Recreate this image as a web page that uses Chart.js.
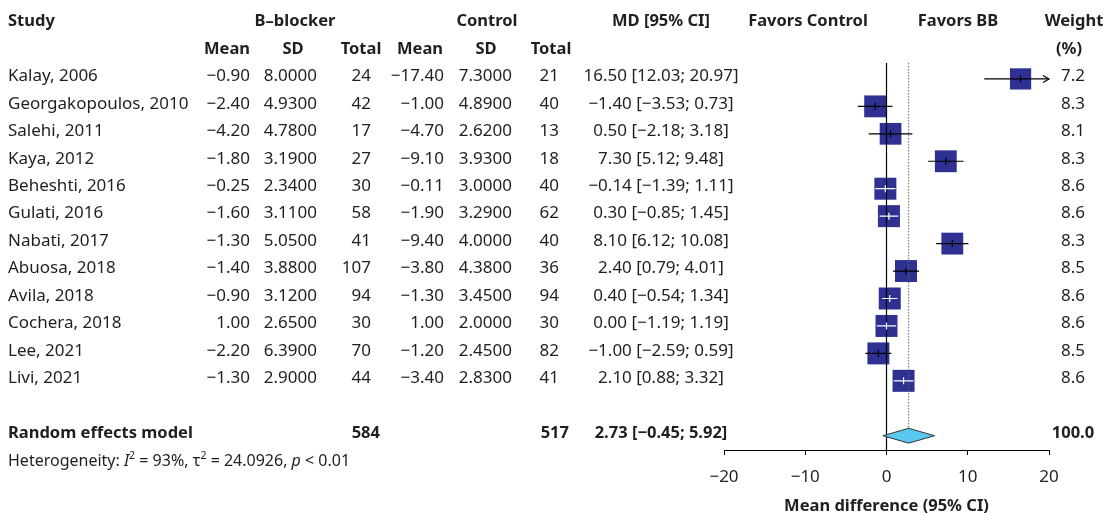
<!DOCTYPE html>
<html>
<head>
<meta charset="utf-8">
<script src="https://cdn.jsdelivr.net/npm/chart.js@4.4.0/dist/chart.umd.min.js"></script>
<style>
  body { margin: 0; background: #fff; }
  #forest { display: block; }
</style>
</head>
<body>
<canvas id="forest" width="1105" height="513"></canvas>
<script>
// study rows
var studies = ["Kalay, 2006", "Georgakopoulos, 2010", "Salehi, 2011", "Kaya, 2012", "Beheshti, 2016", "Gulati, 2016",
  "Nabati, 2017", "Abuosa, 2018", "Avila, 2018", "Cochera, 2018", "Lee, 2021", "Livi, 2021"];
var bbMean = [-0.90, -2.40, -4.20, -1.80, -0.25, -1.60, -1.30, -1.40, -0.90, 1.00, -2.20, -1.30];
var bbSD = [8.0000, 4.9300, 4.7800, 3.1900, 2.3400, 3.1100, 5.0500, 3.8800, 3.1200, 2.6500, 6.3900, 2.9000];
var bbTotal = [24, 42, 17, 27, 30, 58, 41, 107, 94, 30, 70, 44];
var ctMean = [-17.40, -1.00, -4.70, -9.10, -0.11, -1.90, -9.40, -3.80, -1.30, 1.00, -1.20, -3.40];
var ctSD = [7.3000, 4.8900, 2.6200, 3.9300, 3.0000, 3.2900, 4.0000, 4.3800, 3.4500, 2.0000, 2.4500, 2.8300];
var ctTotal = [21, 40, 13, 18, 40, 62, 40, 36, 94, 30, 82, 41];
var md = [16.50, -1.40, 0.50, 7.30, -0.14, 0.30, 8.10, 2.40, 0.40, 0.00, -1.00, 2.10];
var ciLow = [12.03, -3.53, -2.18, 5.12, -1.39, -0.85, 6.12, 0.79, -0.54, -1.19, -2.59, 0.88];
var ciHigh = [20.97, 0.73, 3.18, 9.48, 1.11, 1.45, 10.08, 4.01, 1.34, 1.19, 0.59, 3.32];
var weight = [7.2, 8.3, 8.1, 8.3, 8.6, 8.6, 8.3, 8.5, 8.6, 8.6, 8.5, 8.6];

// random effects model
var pooledMD = [2.73, -0.45, 5.92];
var pooledTotals = [584, 517];
var pooledWeight = 100.0;
var i2 = '93%';
var tau2 = '24.0926';
var pValue = '< 0.01';

var xTicks = [-20, -10, 0, 10, 20];

var FONT = 'Noto Sans';
var TXT = '#1f1f1f';
var pooledRow = 13;

function num(v, d) {
  return (v < 0 ? '\u2212' : '') + Math.abs(v).toFixed(d);
}
function sideOf(w) {
  return 22 * Math.pow(w / 8.6, 0.2);
}

// CI whiskers + diamond
var ciPlugin = {
  id: 'ciLines',
  afterDatasetsDraw: function (chart) {
    var ctx = chart.ctx, xs = chart.scales.x, ys = chart.scales.y;
    ctx.save();
    ctx.lineWidth = 1.2;
    for (var i = 0; i < md.length; i++) {
      var y = ys.getPixelForValue(i);
      var x1 = xs.getPixelForValue(Math.max(ciLow[i], -20));
      var x2 = xs.getPixelForValue(Math.min(ciHigh[i], 20));
      var xm = xs.getPixelForValue(md[i]);
      var col = (x2 - x1) > sideOf(weight[i]) ? '#000' : '#fff';
      ctx.strokeStyle = col;
      ctx.beginPath();
      ctx.moveTo(x1, y); ctx.lineTo(x2, y);
      ctx.moveTo(xm, y - 3.5); ctx.lineTo(xm, y + 3.5);
      ctx.stroke();
      if (ciHigh[i] > 20) {
        ctx.strokeStyle = '#000';
        ctx.beginPath();
        ctx.moveTo(x2 - 6, y - 3.5); ctx.lineTo(x2, y); ctx.lineTo(x2 - 6, y + 3.5);
        ctx.stroke();
      }
    }
    // diamond
    var yc = ys.getPixelForValue(pooledRow);
    var h = Math.abs(ys.getPixelForValue(pooledRow + 0.27) - yc);
    ctx.beginPath();
    ctx.moveTo(xs.getPixelForValue(pooledMD[1]), yc);
    ctx.lineTo(xs.getPixelForValue(pooledMD[0]), yc - h);
    ctx.lineTo(xs.getPixelForValue(pooledMD[2]), yc);
    ctx.lineTo(xs.getPixelForValue(pooledMD[0]), yc + h);
    ctx.closePath();
    ctx.fillStyle = '#58c8f0';
    ctx.fill();
    ctx.lineWidth = 1;
    ctx.strokeStyle = '#333';
    ctx.stroke();
    ctx.restore();
  }
};

// table text around the plot
var tablePlugin = {
  id: 'table',
  afterDraw: function (chart) {
    var ctx = chart.ctx, ys = chart.scales.y;
    function txt(s, x, row, align, bold) {
      ctx.font = bold ? 'bold 16.5px "' + FONT + '"' : '17px "' + FONT + '"';
      ctx.textAlign = align;
      ctx.fillText(s, x, ys.getPixelForValue(row) - 2.5);
    }
    ctx.save();
    ctx.fillStyle = TXT;
    ctx.textBaseline = 'middle';

    // headers
    txt('Study', 8, -2, 'left', true);
    txt('B\u2013blocker', 295, -2, 'center', true);
    txt('Control', 487, -2, 'center', true);
    txt('MD [95% CI]', 661, -2, 'center', true);
    txt('Favors Control', 808, -2, 'center', true);
    txt('Favors BB', 958, -2, 'center', true);
    txt('Weight', 1074, -2, 'center', true);
    txt('Mean', 227, -1, 'center', true);
    txt('SD', 293, -1, 'center', true);
    txt('Total', 361, -1, 'center', true);
    txt('Mean', 420, -1, 'center', true);
    txt('SD', 486, -1, 'center', true);
    txt('Total', 551, -1, 'center', true);
    txt('(%)', 1069, -1, 'center', true);

    for (var i = 0; i < studies.length; i++) {
      txt(studies[i], 8, i, 'left');
      txt(num(bbMean[i], 2), 250, i, 'right');
      txt(num(bbSD[i], 4), 317, i, 'right');
      txt(String(bbTotal[i]), 371, i, 'right');
      txt(num(ctMean[i], 2), 444, i, 'right');
      txt(num(ctSD[i], 4), 512, i, 'right');
      txt(String(ctTotal[i]), 559, i, 'right');
      txt(num(md[i], 2) + ' [' + num(ciLow[i], 2) + '; ' + num(ciHigh[i], 2) + ']', 661, i, 'center');
      txt(weight[i].toFixed(1), 1073, i, 'center');
    }

    // pooled row
    txt('Random effects model', 8, pooledRow, 'left', true);
    txt(String(pooledTotals[0]), 380, pooledRow, 'right', true);
    txt(String(pooledTotals[1]), 569, pooledRow, 'right', true);
    txt(num(pooledMD[0], 2) + ' [' + num(pooledMD[1], 2) + '; ' + num(pooledMD[2], 2) + ']', 661, pooledRow, 'center', true);
    txt(pooledWeight.toFixed(1), 1073, pooledRow, 'center', true);

    // heterogeneity line
    var parts = [
      ['Heterogeneity: ', ''], ['I', 'italic '], ['2', 'sup'], [' = ' + i2 + ', ', ''],
      ['\u03c4', ''], ['2', 'sup'], [' = ' + tau2 + ', ', ''], ['p', 'italic '], [' ' + pValue, '']
    ];
    var hx = 8, hy = ys.getPixelForValue(pooledRow + 1) - 2;
    ctx.textAlign = 'left';
    parts.forEach(function (p) {
      if (p[1] === 'sup') {
        ctx.font = '10.5px "' + FONT + '"';
        ctx.fillText(p[0], hx, hy - 5);
      } else {
        ctx.font = p[1] + '16px "' + FONT + '"';
        ctx.fillText(p[0], hx, hy);
      }
      hx += ctx.measureText(p[0]).width;
    });
    ctx.restore();
  }
};

var ctx = document.getElementById('forest').getContext('2d');
var forest = new Chart(ctx, {
  type: 'scatter',
  data: {
    datasets: [{
      label: 'MD',
      data: md.map(function (v, i) { return { x: v, y: i }; }),
      pointStyle: 'rect',
      pointRadius: weight.map(function (w) { return sideOf(w) / Math.SQRT2; }),
      pointHoverRadius: weight.map(function (w) { return sideOf(w) / Math.SQRT2; }),
      backgroundColor: '#2e3192',
      borderWidth: 0,
      order: 2
    }, {
      label: 'no effect',
      data: [{ x: 0, y: -0.58 }, { x: 0, y: 13.52 }],
      showLine: true,
      borderColor: '#000',
      borderWidth: 1.2,
      pointRadius: 0,
      order: 1
    }, {
      label: 'pooled',
      data: [{ x: pooledMD[0], y: -0.58 }, { x: pooledMD[0], y: pooledRow - 0.27 }],
      showLine: true,
      borderColor: '#666',
      borderWidth: 1,
      borderDash: [1.5, 1.5],
      pointRadius: 0,
      order: 1
    }]
  },
  options: {
    responsive: false,
    animation: false,
    devicePixelRatio: 1,
    events: [],
    layout: {
      padding: { left: 724, right: 56, top: 63, bottom: 0 },
      autoPadding: false
    },
    plugins: {
      legend: { display: false },
      tooltip: { enabled: false }
    },
    scales: {
      x: {
        type: 'linear',
        min: -20,
        max: 20,
        afterBuildTicks: function (s) { s.ticks = xTicks.map(function (v) { return { value: v }; }); },
        afterFit: function (s) { s.height = 63; },
        ticks: {
          callback: function (v) { return num(v, 0); },
          font: { family: FONT, size: 17 },
          color: TXT,
          padding: 12,
          maxRotation: 0
        },
        grid: { drawOnChartArea: false, tickLength: 5, color: '#000', lineWidth: 1 },
        border: { color: '#000', width: 1 },
        title: {
          display: true,
          text: 'Mean difference (95% CI)',
          font: { family: FONT, size: 16.5, weight: 'bold' },
          color: TXT,
          padding: { top: 0, bottom: -3 }
        }
      },
      y: {
        type: 'linear',
        reverse: true,
        min: -0.58,
        max: 13.52,
        display: false
      }
    }
  },
  plugins: [ciPlugin, tablePlugin]
});
</script>
</body>
</html>
